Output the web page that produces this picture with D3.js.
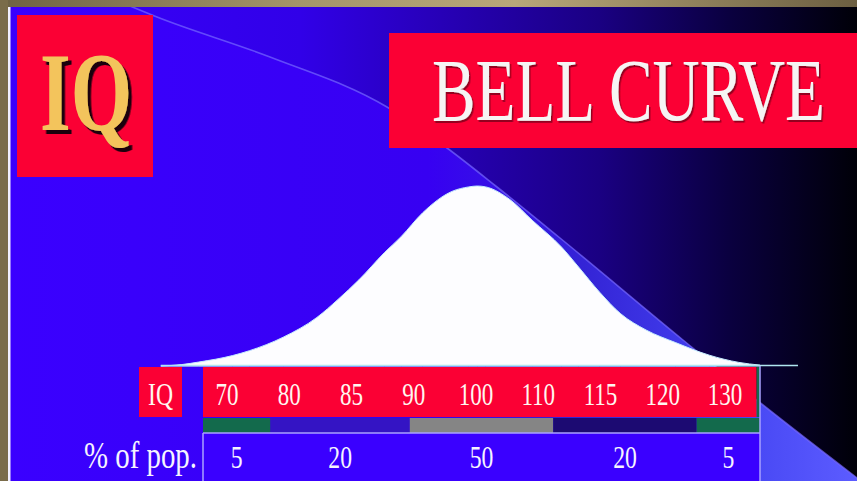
<!DOCTYPE html>
<html><head><meta charset="utf-8">
<script src="https://cdn.jsdelivr.net/npm/d3@7"></script>
<style>html,body{margin:0;padding:0;background:#000;overflow:hidden}</style>
</head><body><svg id="c" width="857" height="481"></svg>
<script>
// ---------- data ----------
const iqLabels = ["70", "80", "85", "90", "100", "110", "115", "120", "130"];
const pctLabels = ["5", "20", "50", "20", "5"];
const segIQFrom = [67, 75, 91.5, 108.5, 125.5];
const segIQTo   = [75, 91.5, 108.5, 125.5, 133];
const bellIQ      = [62, 64.5, 66.5, 70.5, 72.5, 76.5, 80.5, 83, 85.5, 88.5, 90.5, 93, 96.5, 98.5, 99.5, 100.5, 103.5, 106, 109.5, 111.5, 114, 116.5, 119.5, 123, 127, 130.5, 133];
const bellDensity = [0, 0.008, 0.022, 0.058, 0.085, 0.16, 0.27, 0.37, 0.48, 0.63, 0.72, 0.85, 0.97, 0.995, 1, 0.995, 0.92, 0.81, 0.66, 0.55, 0.41, 0.29, 0.2, 0.13, 0.06, 0.02, 0.005];
const titleText = "BELL CURVE";
const logoText = "IQ";
const rowIQLabel = "IQ";
const rowPctLabel = "% of pop.";

// ---------- styles ----------
const segFill = ["#136a4c", "#3414c4", "#858585", "#1c0a72", "#136a4c"];
const RED = "#fb0034";
const SERIF = "Liberation Serif, serif";

const W = 857, H = 481;
const svg = d3.select("#c");
const defs = svg.append("defs");
function lg(id, stops) {
  const g = defs.append("linearGradient").attr("id", id)
    .attr("x1", 0).attr("y1", 0).attr("x2", 1).attr("y2", 0);
  stops.forEach(([o, c]) => g.append("stop").attr("offset", o).attr("stop-color", c));
}
lg("bg", [[0, "#3a00ff"], [0.35, "#3100e8"], [0.5, "#2800bb"], [0.7, "#1a0082"], [0.85, "#0a0040"], [1, "#000008"]]);
lg("below", [[0, "#3a00ff"], [0.5, "#3700f2"], [0.68, "#3424d6"], [0.85, "#4444f2"], [1, "#5c5cff"]]);
lg("frameTop", [[0, "#6e6244"], [0.35, "#a4956a"], [0.6, "#b8a77a"], [1, "#6c5f42"]]);
function shadow(id, dx, dy, color, op) {
  const f = defs.append("filter").attr("id", id).attr("x", "-10%").attr("y", "-10%").attr("width", "130%").attr("height", "130%");
  f.append("feDropShadow").attr("dx", dx).attr("dy", dy).attr("stdDeviation", 0.6)
    .attr("flood-color", color).attr("flood-opacity", op);
}
shadow("shLogo", 5, 4, "#1a0008", 1);
shadow("shTitle", 2, 2, "#7a0018", 0.8);

// condensed text: drawn at (x,y) and squeezed horizontally to a factor k (or to a target width)
function condText(str, x, y, opt) {
  const g = svg.append("g");
  const t = g.append("text").attr("x", 0).attr("y", 0)
    .attr("text-anchor", opt.anchor || "start")
    .attr("font-family", SERIF).attr("font-size", opt.size)
    .attr("font-weight", opt.weight || "normal")
    .attr("fill", opt.fill).text(str);
  if (opt.filter) t.attr("filter", opt.filter);
  const nat = t.node().getComputedTextLength();
  const k = opt.width ? opt.width / nat : opt.k;
  g.attr("transform", `translate(${x},${y}) scale(${k},1)`);
  return g;
}

// background
svg.append("rect").attr("width", W).attr("height", H).attr("fill", "url(#bg)");
const arcPts = [[130, 6], [157, 17], [270, 57], [387, 107], [443, 145], [497, 187], [560, 238], [683, 340], [763, 405], [857, 478]];
const arcLine = d3.line().curve(d3.curveMonotoneX);
svg.append("path").attr("d", arcLine(arcPts) + `L${W},${H}L0,${H}L0,6Z`).attr("fill", "url(#below)");
svg.append("path").attr("d", arcLine(arcPts)).attr("fill", "none")
  .attr("stroke", "#7668ff").attr("stroke-width", 1.6).attr("opacity", 0.7);

// frame
svg.append("rect").attr("x", 0).attr("y", 0).attr("width", W).attr("height", 7).attr("fill", "url(#frameTop)");
svg.append("rect").attr("x", 0).attr("y", 0).attr("width", 8).attr("height", H).attr("fill", "#7a6c4a");
svg.append("rect").attr("x", 8).attr("y", 7).attr("width", 2.5).attr("height", H - 7).attr("fill", "#f2f0ff");

// logo box
svg.append("rect").attr("x", 17).attr("y", 15).attr("width", 136).attr("height", 162).attr("fill", RED);
condText(logoText, 40, 130, { size: 112, weight: "bold", fill: "#f3c45c", filter: "url(#shLogo)", width: 92 });

// title box
svg.append("rect").attr("x", 389).attr("y", 33).attr("width", W - 389).attr("height", 115).attr("fill", RED);
condText(titleText, 432, 120, { size: 88, fill: "#f6f4f4", filter: "url(#shTitle)", width: 393 });

// scales
const xIQ = d3.scaleLinear().domain([67, 133]).range([203, 760]);
const yBell = d3.scaleLinear().domain([0, 1]).range([366, 186]);
const xLab = d3.scalePoint().domain(iqLabels).range([227, 725]);

// bell curve
const bellData = bellIQ.map((v, i) => ({ iq: v, d: bellDensity[i] }));
const area = d3.area().x(d => xIQ(d.iq)).y0(yBell(0)).y1(d => yBell(d.d)).curve(d3.curveMonotoneX);
svg.append("path").datum(bellData).attr("d", area).attr("fill", "#fdfdff")
  .attr("stroke", "#c4ecff").attr("stroke-width", 1);
svg.append("line").attr("x1", xIQ(bellIQ[0])).attr("x2", xIQ(137.5))
  .attr("y1", yBell(0) - 0.5).attr("y2", yBell(0) - 0.5)
  .attr("stroke", "#b0e6f0").attr("stroke-width", 1.5);

// row 1: IQ values
const r1Top = 367, r1Bot = 417, r2Bot = 433;
svg.append("rect").attr("x", 139).attr("y", r1Top).attr("width", 43).attr("height", r1Bot - r1Top).attr("fill", RED);
svg.append("rect").attr("x", xIQ(67)).attr("y", r1Top).attr("width", xIQ(132.6) - xIQ(67)).attr("height", r1Bot - r1Top).attr("fill", RED);
svg.append("rect").attr("x", xIQ(132.6)).attr("y", r1Top).attr("width", xIQ(133) - xIQ(132.6)).attr("height", r1Bot - r1Top).attr("fill", "#136a4c");

condText(rowIQLabel, 160.5, 405, { size: 32, fill: "#fff6f0", anchor: "middle", k: 0.74 });
iqLabels.forEach(d => condText(d, xLab(d), 405, { size: 32, fill: "#fff6f0", anchor: "middle", k: 0.72 }));

// row 2: colour strip
svg.selectAll("rect.seg").data(segIQFrom).join("rect").attr("class", "seg")
  .attr("x", d => xIQ(d)).attr("y", r1Bot + 1)
  .attr("width", (d, i) => xIQ(segIQTo[i]) - xIQ(d)).attr("height", r2Bot - r1Bot - 1)
  .attr("fill", (d, i) => segFill[i]);

// row 3 background
svg.append("rect").attr("x", xIQ(67)).attr("y", r2Bot).attr("width", xIQ(133) - xIQ(67)).attr("height", H - r2Bot).attr("fill", "#3a00ff");

// grid lines
const LAV = "#aaa2ff";
svg.append("line").attr("x1", xIQ(67)).attr("x2", xIQ(133)).attr("y1", r2Bot).attr("y2", r2Bot).attr("stroke", LAV).attr("stroke-width", 1.5);
svg.append("line").attr("x1", xIQ(67)).attr("x2", xIQ(67)).attr("y1", r2Bot).attr("y2", H).attr("stroke", LAV).attr("stroke-width", 1.5);
svg.append("line").attr("x1", xIQ(133)).attr("x2", xIQ(133)).attr("y1", yBell(0)).attr("y2", H).attr("stroke", LAV).attr("stroke-width", 1.5);

// row 3: percentages
condText(rowPctLabel, 197, 468, { size: 38, fill: "#f6f4ff", anchor: "end", k: 0.76 });
pctLabels.forEach((d, i) => condText(d, xIQ((segIQFrom[i] + segIQTo[i]) / 2), 468,
  { size: 32, fill: "#f6f4ff", anchor: "middle", k: 0.74 }));
</script></body></html>
